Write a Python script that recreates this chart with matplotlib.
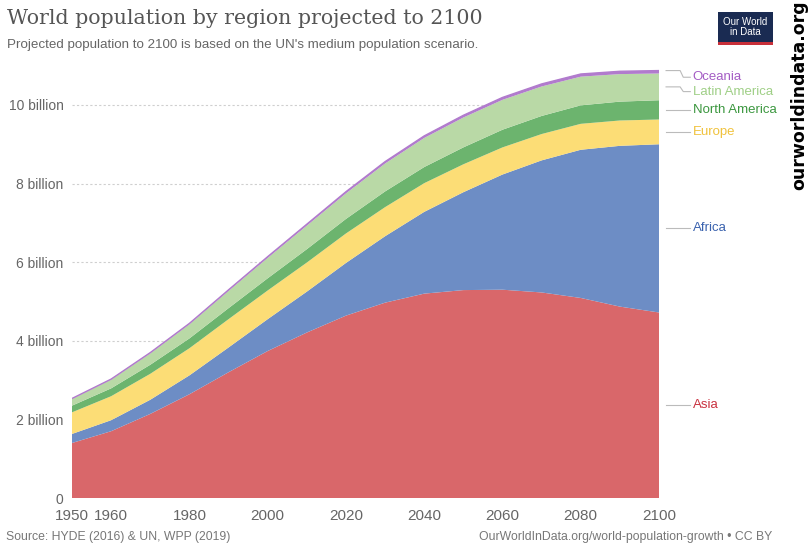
import numpy as np
import matplotlib
matplotlib.use('Agg')
import matplotlib.pyplot as plt
from matplotlib.patches import Rectangle

# population in billions, UN medium scenario
years = [1950, 1960, 1970, 1980, 1990, 2000, 2010, 2020, 2030, 2040, 2050, 2060, 2070, 2080, 2090, 2100]
asia = [1.40, 1.70, 2.14, 2.64, 3.20, 3.74, 4.21, 4.64, 4.97, 5.20, 5.29, 5.30, 5.23, 5.09, 4.87, 4.72]
africa = [0.23, 0.28, 0.36, 0.48, 0.63, 0.81, 1.04, 1.34, 1.69, 2.08, 2.49, 2.93, 3.36, 3.77, 4.09, 4.28]
europe = [0.55, 0.61, 0.66, 0.69, 0.72, 0.73, 0.74, 0.75, 0.74, 0.73, 0.71, 0.69, 0.67, 0.66, 0.645, 0.63]
north_america = [0.17, 0.20, 0.23, 0.25, 0.28, 0.31, 0.34, 0.37, 0.40, 0.41, 0.43, 0.45, 0.46, 0.47, 0.48, 0.49]
latin_america = [0.17, 0.22, 0.29, 0.36, 0.44, 0.52, 0.60, 0.65, 0.71, 0.74, 0.76, 0.76, 0.75, 0.73, 0.70, 0.68]
oceania = [0.013, 0.016, 0.020, 0.023, 0.027, 0.031, 0.037, 0.043, 0.048, 0.053, 0.057, 0.061, 0.065, 0.068, 0.072, 0.075]

regions = ['Asia', 'Africa', 'Europe', 'North America', 'Latin America', 'Oceania']
fill_colors = ['#d9676a', '#6d8dc5', '#fcdd76', '#6cb46e', '#b9d9a6', '#b17bcd']
text_colors = ['#c9313f', '#3a62ae', '#f0c23c', '#3b973f', '#9fcf86', '#a45cc4']
xticks = [1950, 1960, 1980, 2000, 2020, 2040, 2060, 2080, 2100]
yticks = [0, 2, 4, 6, 8, 10]
ylabels = ['0', '2 billion', '4 billion', '6 billion', '8 billion', '10 billion']

sans = ['Liberation Sans', 'DejaVu Sans']

fig = plt.figure(figsize=(8.09, 5.48), dpi=100)
ax = fig.add_axes([0.089, 0.0912, 0.7256, 0.789])

series = [asia, africa, europe, north_america, latin_america, oceania]
ax.stackplot(years, *series, colors=fill_colors, linewidth=0)
top = np.sum(series, axis=0)
ax.plot(years, top, color=fill_colors[-1], lw=1.0, solid_capstyle='butt')

ax.set_xlim(1950, 2100)
ax.set_ylim(0, 11)
ax.set_axisbelow(True)
ax.grid(axis='y', color='#cfcfcf', lw=0.8, linestyle=(0, (2, 2)))
for s in ax.spines.values():
    s.set_visible(False)
ax.set_xticks(xticks)
ax.set_xticklabels([str(x) for x in xticks], family=sans, fontsize=11, color='#666666')
ax.set_yticks(yticks)
ax.set_yticklabels(ylabels, family=sans, fontsize=10, color='#666666')
ax.tick_params(length=0, pad=6)
ax.tick_params(axis='x', pad=8)

# right-hand labels with leader lines
last = [s[-1] for s in series]
cum = np.cumsum(last)
mids = cum - np.array(last) / 2
label_y = list(mids)
label_y[5] = cum[5] - 0.17
label_y[4] = mids[4] - 0.12
line_y = list(mids)
line_y[5] = cum[5]
for i, name in enumerate(regions):
    ax.plot([2101.8, 2105.4, 2106.2, 2108.0], [line_y[i], line_y[i], label_y[i], label_y[i]],
            color='#bbbbbb', lw=0.8, clip_on=False)
    ax.text(2108.6, label_y[i], name, color=text_colors[i], fontsize=9.5, family=sans,
            va='center', ha='left', clip_on=False)

fig.text(0.009, 0.967, 'World population by region projected to 2100', family=['DejaVu Serif'],
         fontsize=14.8, color='#555555', va='center', ha='left')
fig.text(0.009, 0.918, "Projected population to 2100 is based on the UN's medium population scenario.",
         family=sans, fontsize=9.6, color='#666666', va='center', ha='left')
fig.text(0.008, 0.02, 'Source: HYDE (2016) & UN, WPP (2019)', family=sans, fontsize=8.8,
         color='#777777', va='center', ha='left')
fig.text(0.955, 0.02, 'OurWorldInData.org/world-population-growth \u2022 CC BY', family=sans,
         fontsize=8.8, color='#777777', va='center', ha='right')

# logo
fig.patches.append(Rectangle((718 / 809, 1 - 45 / 548), 55 / 809, 33 / 548, transform=fig.transFigure,
                             facecolor='#1a2b52', edgecolor='none'))
fig.patches.append(Rectangle((718 / 809, 1 - 45 / 548), 55 / 809, 3 / 548, transform=fig.transFigure,
                             facecolor='#c8303a', edgecolor='none'))
fig.text(745.5 / 809, 1 - 27 / 548, 'Our World\nin Data', family=sans, fontsize=7, color='white',
         ha='center', va='center', linespacing=0.95)
fig.text(0.988, 1.0, 'ourworldindata.org', family=['DejaVu Sans'], fontweight='bold', fontsize=12.5,
         color='black', rotation=90, ha='center', va='top')

fig.savefig('out.png', dpi=100)
